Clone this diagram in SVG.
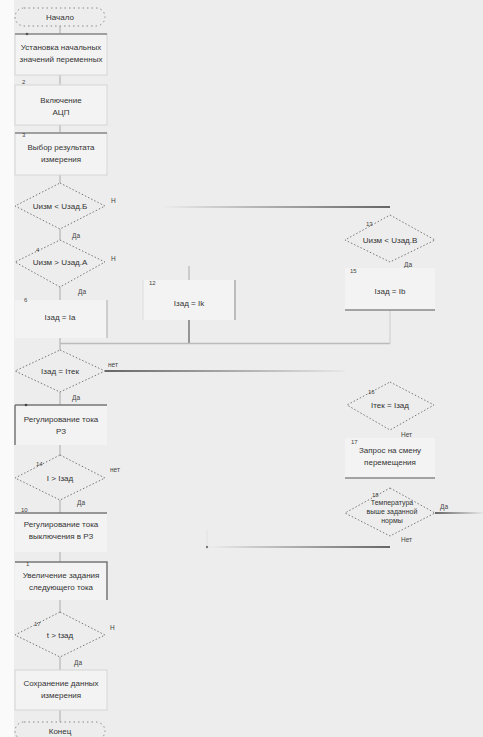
<svg xmlns="http://www.w3.org/2000/svg" width="483" height="737" viewBox="0 0 483 737">
<style>
text{font-family:"Liberation Sans",Arial,sans-serif;font-size:8px;fill:#333;text-anchor:middle}
.n{font-size:6px;text-anchor:start;fill:#444}
.l{font-size:6.5px;text-anchor:start;fill:#444}
.box{fill:#f3f3f3;stroke:#d6d6d6;stroke-width:1}
.dia{fill:none;stroke:#777;stroke-width:1;stroke-dasharray:1.5 2}
.term{fill:none;stroke:#888;stroke-width:1;stroke-dasharray:1.5 3}
.c{stroke:#aaa;stroke-width:1;fill:none}
path{fill:none}
</style>
<defs>
<linearGradient id="g1" x1="0" x2="1" y1="0" y2="0"><stop offset="0" stop-color="#eee"/><stop offset="1" stop-color="#666"/></linearGradient>
<linearGradient id="g2" x1="0" x2="1" y1="0" y2="0"><stop offset="0" stop-color="#666"/><stop offset="1" stop-color="#e8e8e8"/></linearGradient>
</defs>
<rect width="483" height="737" fill="#ededed"/>
<rect width="14" height="737" fill="#fafafa"/>
<g id="connectors">
<path class="c" d="M60 26V35M60 75V85M60 125V133M60 175V183M60 229V240M60 287V300M60 338V350M60 392V405M60 445V455M60 500V513M60 552V562M60 600V612M60 657V670M60 710V722"/>
<rect x="160" y="206" width="230" height="2" fill="url(#g1)"/>
<path class="c" d="M189 266V280"/>
<path d="M189 320V344" stroke="#777" stroke-width="1.5"/>
<path d="M60 343.5H390" stroke="#bbb" stroke-width="1.5"/>
<path d="M390 310V344" stroke="#ccc" stroke-width="1"/>
<rect x="105" y="370" width="240" height="2" fill="url(#g2)"/>
<rect x="435" y="512" width="48" height="2" fill="url(#g2)"/>
<rect x="207" y="546" width="183" height="2" fill="url(#g1)"/>
<circle cx="207" cy="547" r="1.2" fill="#777"/>
<path d="M207 530V546" stroke="#e2e2e2" stroke-width="1"/>
</g>
<g id="start">
<rect class="term" x="15" y="8" width="90" height="18" rx="9"/>
<text x="60" y="20">Начало</text>
</g>
<g id="b1">
<rect class="box" x="15" y="34" width="92" height="41"/>
<path d="M15 34H107" stroke="#888" stroke-width="1.5"/>
<circle cx="27" cy="34" r="1.3" fill="#555"/>
<text x="61" y="50">Установка начальных</text>
<text x="61" y="62">значений переменных</text>
</g>
<g id="b2">
<rect class="box" x="15" y="85" width="92" height="40"/>
<text class="n" x="22" y="84">2</text>
<text x="61" y="103">Включение</text>
<text x="61" y="115">АЦП</text>
</g>
<g id="b3">
<rect class="box" x="15" y="133" width="92" height="42"/>
<path d="M15 133H107" stroke="#888" stroke-width="1.5"/>
<text class="n" x="22" y="137">3</text>
<text x="61" y="150">Выбор результата</text>
<text x="61" y="162">измерения</text>
</g>
<g id="d1">
<polygon class="dia" points="60,183 105,206 60,229 15,206"/>
<text x="60" y="209">Uизм &lt; Uзад.Б</text>
<text class="l" x="111" y="203">Н</text>
<text class="l" x="72" y="238">Да</text>
</g>
<g id="d2">
<polygon class="dia" points="60,240 105,262 60,287 15,262"/>
<text class="n" x="36" y="252">4</text>
<text x="60" y="265">Uизм &gt; Uзад.А</text>
<text class="l" x="111" y="261">Н</text>
<text class="l" x="78" y="294">Да</text>
</g>
<g id="b6">
<rect class="box" x="15" y="300" width="92" height="38" style="stroke:none"/>
<path d="M107 300V338" stroke="#aaa" stroke-width="1"/>
<text class="n" x="24" y="302">6</text>
<text x="60" y="320">Iзад = Iа</text>
</g>
<g id="b12">
<rect class="box" x="143" y="280" width="92" height="40" style="stroke:none"/>
<path d="M143 280V320" stroke="#ddd"/>
<path d="M235 280V320" stroke="#aaa" stroke-width="1.5"/>
<text class="n" x="149" y="285">12</text>
<text x="189" y="306">Iзад = Ik</text>
</g>
<g id="d13">
<polygon class="dia" points="390,215 435,240 390,262 345,240"/>
<text class="n" x="366" y="226">13</text>
<text x="390" y="243">Uизм &lt; Uзад.В</text>
<text class="l" x="404" y="267">Да</text>
</g>
<g id="b15">
<rect class="box" x="345" y="268" width="90" height="42" style="stroke:none"/>
<path d="M345 310H435" stroke="#888" stroke-width="1.5"/>
<text class="n" x="350" y="273">15</text>
<text x="390" y="294">Iзад = Ib</text>
</g>
<g id="d3">
<polygon class="dia" points="60,350 105,371 60,392 15,371"/>
<text x="60" y="374">Iзад = Iтек</text>
<text class="l" x="108" y="367">нет</text>
<text class="l" x="72" y="400">Да</text>
</g>
<g id="b7">
<rect class="box" x="15" y="405" width="92" height="40" style="stroke:none"/>
<path d="M15 405H107M15 405V445" stroke="#777" stroke-width="1.5"/>
<circle cx="26" cy="405" r="1.3" fill="#444"/>
<text x="61" y="422">Регулирование тока</text>
<text x="61" y="434">РЗ</text>
</g>
<g id="d4">
<polygon class="dia" points="60,455 105,478 60,500 15,478"/>
<text class="n" x="36" y="466">14</text>
<text x="60" y="481">I &gt; Iзад</text>
<text class="l" x="110" y="472">нет</text>
<text class="l" x="77" y="505">Да</text>
</g>
<g id="b9">
<rect class="box" x="15" y="513" width="92" height="39" style="stroke:none"/>
<path d="M15 513H107" stroke="#777" stroke-width="1.5"/>
<text class="n" x="21" y="512">10</text>
<text x="61" y="527">Регулирование тока</text>
<text x="61" y="539">выключения в РЗ</text>
</g>
<g id="b10">
<rect class="box" x="15" y="562" width="92" height="38" style="stroke:none"/>
<path d="M15 562H107V600" stroke="#777" stroke-width="1.5"/>
<text class="n" x="26" y="566">1</text>
<text x="61" y="578">Увеличение задания</text>
<text x="61" y="590">следующего тока</text>
</g>
<g id="d5">
<polygon class="dia" points="60,612 105,635 60,657 15,635"/>
<text class="n" x="34" y="626">17</text>
<text x="60" y="638">t &gt; tзад</text>
<text class="l" x="110" y="630">Н</text>
<text class="l" x="74" y="665">Да</text>
</g>
<g id="b11">
<rect class="box" x="15" y="670" width="92" height="40"/>
<text x="61" y="686">Сохранение данных</text>
<text x="61" y="698">измерения</text>
</g>
<g id="end">
<rect class="term" x="15" y="722" width="90" height="18" rx="9"/>
<text x="60" y="734">Конец</text>
</g>
<g id="d16">
<polygon class="dia" points="390,382 434,405 390,430 347,405"/>
<text class="n" x="368" y="394">16</text>
<text x="390" y="408">Iтек = Iзад</text>
<text class="l" x="401" y="437">Нет</text>
</g>
<g id="b17">
<rect class="box" x="345" y="438" width="90" height="40" style="stroke:none"/>
<path d="M345 478H435" stroke="#888" stroke-width="1.5"/>
<text class="n" x="351" y="444">17</text>
<text x="390" y="453">Запрос на смену</text>
<text x="390" y="465">перемещения</text>
</g>
<g id="d18">
<polygon class="dia" points="390,488 435,513 390,536 345,513"/>
<text class="n" x="372" y="497">18</text>
<text x="392" y="505" style="font-size:7px">Температура</text>
<text x="392" y="514" style="font-size:7px">выше заданной</text>
<text x="392" y="523" style="font-size:7px">нормы</text>
<text class="l" x="440" y="509">Да</text>
<text class="l" x="401" y="542">Нет</text>
</g>
</svg>
